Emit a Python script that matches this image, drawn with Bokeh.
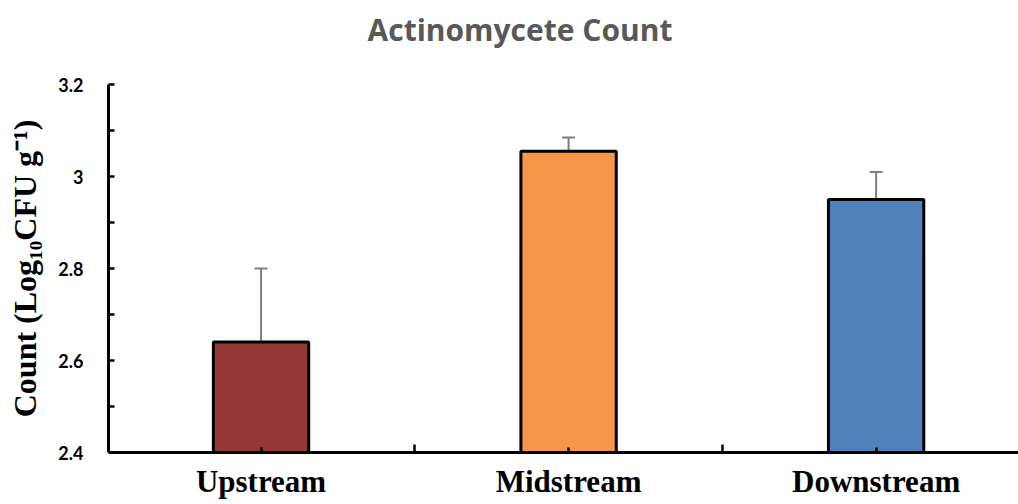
from bokeh.plotting import figure
from bokeh.models import (FixedTicker, CustomJSTickFormatter, Whisker, TeeHead,
                          ColumnDataSource, Range1d, Label)
from bokeh.embed import file_html
from bokeh.resources import INLINE

title_text = "Actinomycete Count"
y_label_text = "Count (Log\u2081\u2080CFU g\u207b\u00b9)"
categories = ["Upstream", "Midstream", "Downstream"]
counts = [2.64, 3.055, 2.95]
errors = [0.16, 0.03, 0.06]
colors = ["#953735", "#F79646", "#4F81BD"]
y_ticks = [2.4, 2.6, 2.8, 3.0, 3.2]
y_minor_ticks = [2.5, 2.7, 2.9, 3.1]
x_boundaries = [1, 2]

xs = [i + 0.5 for i in range(len(categories))]
src = ColumnDataSource(dict(
    x=xs, top=counts,
    upper=[c + e for c, e in zip(counts, errors)],
    color=colors, cat=categories))

# pixel layout (460 px per unit on y; frame spans whole canvas height)
PX_PER_UNIT = 460.0
TOP_PAD_PX, BOTTOM_PAD_PX = 84, 52
y_lo, y_hi = y_ticks[0], y_ticks[-1]

p = figure(width=1018, height=504, output_backend="svg", toolbar_location=None,
           x_range=Range1d(0.004, 2.963),
           y_range=Range1d(y_lo - BOTTOM_PAD_PX / PX_PER_UNIT, y_hi + TOP_PAD_PX / PX_PER_UNIT),
           min_border_left=108, min_border_right=0, min_border_top=0,
           min_border_bottom=0)

p.vbar(x="x", top="top", bottom=y_lo, width=0.31, fill_color="color",
       line_color="black", line_width=3, source=src)

err_col = "#7f7f7f"
p.add_layout(Whisker(base="x", upper="upper", lower="top", source=src,
                     dimension="height", line_color=err_col, line_width=2,
                     upper_head=TeeHead(size=13, line_color=err_col, line_width=2),
                     lower_head=None))

p.xgrid.visible = False
p.ygrid.visible = False
p.outline_line_color = None
p.background_fill_color = "white"
p.border_fill_color = "white"

# title (placed above the plotted area)
p.add_layout(Label(x=1.342, y=y_hi + 55 / PX_PER_UNIT, x_units="data", y_units="data",
                   text=title_text, text_align="center", text_baseline="middle",
                   text_font="Open Sans", text_font_style="bold",
                   text_font_size="30px", text_color="#595959"))

# y axis
ya = p.yaxis[0]
ya.bounds = (y_lo, y_hi)
ya.ticker = FixedTicker(ticks=y_ticks, minor_ticks=y_minor_ticks)
ya.formatter = CustomJSTickFormatter(code="return (Math.round(tick*10)/10).toString();")
ya.axis_line_width = 3
ya.axis_line_color = "black"
ya.major_tick_in = 6
ya.major_tick_out = 0
ya.minor_tick_in = 6
ya.minor_tick_out = 0
ya.major_tick_line_width = 2.5
ya.minor_tick_line_width = 2.5
ya.major_tick_line_color = "black"
ya.minor_tick_line_color = "black"
ya.major_label_text_font = "Lato"
ya.major_label_text_font_style = "bold"
ya.major_label_text_font_size = "18px"
ya.major_label_text_color = "black"
ya.major_label_standoff = 25
# trailing no-break spaces shift the label down to centre it on the visible axis line
ya.axis_label = y_label_text + "\u00a0" * 4
ya.axis_label_text_font = "Liberation Serif"
ya.axis_label_text_font_style = "bold"
ya.axis_label_text_font_size = "32px"
ya.axis_label_text_color = "black"
ya.axis_label_standoff = 12

# x axis
xa = p.xaxis[0]
xa.fixed_location = y_lo
xa.ticker = FixedTicker(ticks=xs, minor_ticks=x_boundaries)
xa.formatter = CustomJSTickFormatter(args=dict(labels=categories),
                                     code="return labels[Math.round(tick - 0.5)];")
xa.axis_line_width = 3
xa.axis_line_color = "black"
xa.major_tick_in = 5
xa.major_tick_out = 0
xa.minor_tick_in = 8
xa.minor_tick_out = 0
xa.major_tick_line_width = 2.5
xa.minor_tick_line_width = 2.5
xa.major_tick_line_color = "black"
xa.minor_tick_line_color = "black"
xa.major_label_text_font = "Liberation Serif"
xa.major_label_text_font_style = "bold"
xa.major_label_text_font_size = "31px"
xa.major_label_text_color = "black"
xa.major_label_standoff = 11

open("out.html", "w").write(file_html(p, INLINE))
